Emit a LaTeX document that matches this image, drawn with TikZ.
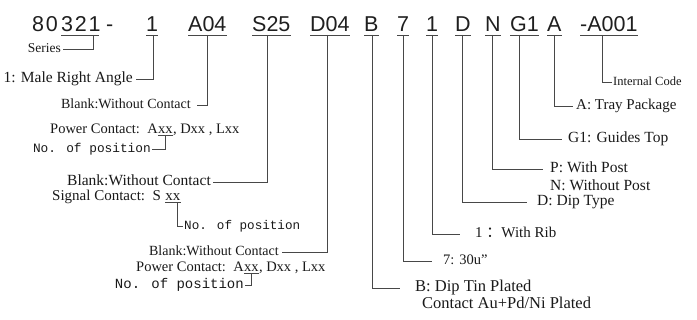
\documentclass[tikz,border=0pt]{standalone}
\usepackage{fontspec}
\setmainfont{Liberation Serif}
\newfontfamily\codef{Liberation Sans}
\newfontfamily\codesp{Liberation Sans}[LetterSpace=8]
\newfontfamily\monof{Liberation Mono}
\newfontfamily\cjk{Noto Sans CJK SC}
\begin{document}
\begin{tikzpicture}[x=1pt,y=-1pt,
  code/.style={font=\codef\fontsize{21.5}{24}\selectfont, text=black!88, inner sep=0, anchor=base west},
  codes/.style={code, font=\codesp\fontsize{21.5}{24}\selectfont},
  lab/.style={font=\fontsize{15}{18}\selectfont, text=black!90, inner ysep=0, inner xsep=0, text height=1.45ex, text depth=.3ex},
  mono/.style={font=\monof\fontsize{12.8}{15}\selectfont, text=black!90, inner sep=0, text height=1.45ex, text depth=.3ex},
  conn/.style={draw=black!72, line width=1pt},
  uline/.style={draw=black!72, line width=0.9pt}]
\useasboundingbox (0,0) rectangle (697,320);
% code row
\node[codes] (c80) at (32,32) {80};
\node[codes] (c321) at (61,32) {321};
\node[code] (cdash) at (106,32) {-};
\node[code] (c1) at (146,32) {1};
\node[code] (cA04) at (188,32) {A04};
\node[code] (cS25) at (252,32) {S25};
\node[code] (cD04) at (310,32) {D04};
\node[code] (cB) at (364,32) {B};
\node[code] (c7) at (397,32) {7};
\node[code] (c1b) at (426,32) {1};
\node[code] (cD) at (455,32) {D};
\node[code] (cN) at (485,32) {N};
\node[code] (cG1) at (510,32) {G1};
\node[code] (cA) at (547,32) {A};
\node[code] (cA001) at (580,32) {-A001};
\foreach \n in {c1,cA04,cS25,cD04,cB,c7,c1b,cD,cN,cG1,cA,cA001}
  \draw[uline] ([yshift=-3pt]\n.base west) -- ([yshift=-3pt]\n.base east);
\draw[uline] ([yshift=-3pt]c321.base west) -- ([yshift=-3pt,xshift=-2pt]c321.base east);
% connector tops
\coordinate (t321) at (93,35);
\coordinate (t1) at (153,35);
\coordinate (tA04) at (207,35);
\coordinate (tS25) at (267,35);
\coordinate (tD04) at (327,35);
\coordinate (tB) at (372,35);
\coordinate (t7) at (403,35);
\coordinate (t1b) at (432,35);
\coordinate (tD) at (462,35);
\coordinate (tN) at (492,35);
\coordinate (tG1) at (519,35);
\coordinate (tA) at (554,35);
\coordinate (tA001) at (602,35);
% left labels
\node[lab, font=\fontsize{13.5}{16}\selectfont, anchor=east, inner xsep=2pt] (lSeries) at (63,50) {Series};
\node[lab, font=\fontsize{15.5}{18}\selectfont, anchor=east, inner xsep=3pt] (l1) at (136,80) {1: Male Right Angle};
\node[lab, font=\fontsize{14}{17}\selectfont, anchor=east, inner xsep=6pt] (lA04) at (197,106) {Blank:Without Contact};
\node[lab, font=\fontsize{14.5}{17}\selectfont, anchor=west] (p1a) at (50,131) {Power Contact:\ \ A};
\node[lab, font=\fontsize{14.5}{17}\selectfont, anchor=base west] (p1x) at (p1a.base east) {xx};
\node[lab, font=\fontsize{14.5}{17}\selectfont, anchor=base west] (p1r) at (p1x.base east) {, Dxx , Lxx};
\node[mono, anchor=east] (np1) at (151,150) {No. of position};
\node[lab, font=\fontsize{15.5}{18}\selectfont, anchor=east, inner xsep=2pt] (lS25) at (213,183) {Blank:Without Contact};
\node[lab, anchor=west] (s2a) at (52,198) {Signal Contact:\ \ S};
\node[lab, anchor=base west] (s2x) at ([xshift=4pt]s2a.base east) {xx};
\node[mono, font=\monof\fontsize{12.6}{15}\selectfont, anchor=west] (np2) at (184,227) {No. of position};
\node[lab, font=\fontsize{14}{17}\selectfont, anchor=east, inner xsep=3pt] (lD04) at (282,253) {Blank:Without Contact};
\node[lab, font=\fontsize{14.5}{17}\selectfont, anchor=west] (p3a) at (136,269) {Power Contact:\ \ A};
\node[lab, font=\fontsize{14.5}{17}\selectfont, anchor=base west] (p3x) at (p3a.base east) {xx};
\node[lab, font=\fontsize{14.5}{17}\selectfont, anchor=base west] (p3r) at (p3x.base east) {, Dxx , Lxx};
\node[mono, font=\monof\fontsize{14}{16}\selectfont, anchor=east] (np3) at (244,286) {No. of position};
% right labels
\node[lab, font=\fontsize{16.5}{19}\selectfont, anchor=west, inner xsep=15pt] (lB) at (400,289) {B: Dip Tin Plated};
\node[lab, font=\fontsize{16.5}{19}\selectfont, anchor=west] (lB2) at (422,306) {Contact Au+Pd/Ni Plated};
\node[lab, font=\fontsize{14.5}{17}\selectfont, anchor=west, inner xsep=11pt] (l7) at (432,262) {7: 30u"};
\node[lab, anchor=west, inner xsep=15pt] (l1b) at (460,235) {1 {\cjk ：}With Rib};
\node[lab, font=\fontsize{15.5}{18}\selectfont, anchor=west, inner xsep=10pt] (lD) at (527,203) {D: Dip Type};
\node[lab, font=\fontsize{15.5}{18}\selectfont, anchor=west, inner xsep=7pt] (lN) at (543,170) {P: With Post};
\node[lab, font=\fontsize{15.5}{18}\selectfont, anchor=west] (lN2) at (550,188) {N: Without Post};
\node[lab, font=\fontsize{15.5}{18}\selectfont, anchor=west, inner xsep=6pt] (lG1) at (562,140) {G1: Guides Top};
\node[lab, anchor=west, inner xsep=3pt] (lA) at (573,107) {A: Tray Package};
\node[lab, font=\fontsize{12.5}{15}\selectfont, anchor=west, inner xsep=1pt] (lA001) at (612,83) {Internal Code};
% connectors
\draw[conn] (t321) |- (lSeries.east);
\draw[conn] (t1) |- (l1.east);
\draw[conn] (tA04) |- (lA04.east);
\draw[uline] ([yshift=-2pt]p1x.base west) -- ([yshift=-2pt]p1x.base east);
\draw[conn] ([yshift=-2pt]p1x.base) |- ([xshift=1pt]np1.east);
\draw[conn] (tS25) |- (lS25.east);
\draw[uline] ([yshift=-2pt]s2x.base west) -- ([yshift=-2pt]s2x.base east);
\draw[conn] ([yshift=-2pt,xshift=-3pt]s2x.base east) |- ([xshift=-1pt]np2.west);
\draw[conn] (tD04) |- (lD04.east);
\draw[uline] ([yshift=-2pt]p3x.base west) -- ([yshift=-2pt]p3x.base east);
\draw[conn] ([yshift=-2pt]p3x.base) |- ([xshift=1pt]np3.east);
\draw[conn] (tB) |- (lB.west);
\draw[conn] (t7) |- (l7.west);
\draw[conn] (t1b) |- (l1b.west);
\draw[conn] (tD) |- (lD.west);
\draw[conn] (tN) |- (lN.west);
\draw[conn] (tG1) |- (lG1.west);
\draw[conn] (tA) |- (lA.west);
\draw[conn] (tA001) |- (lA001.west);
\end{tikzpicture}
\end{document}
